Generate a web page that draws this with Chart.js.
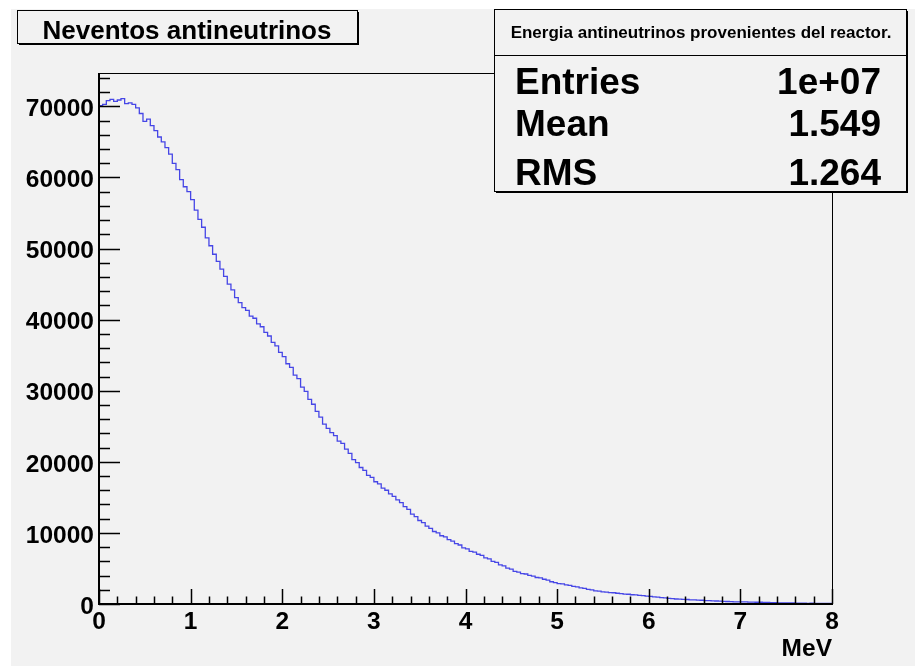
<!DOCTYPE html>
<html>
<head>
<meta charset="utf-8">
<title>Neventos antineutrinos</title>
<script src="https://cdn.jsdelivr.net/npm/chart.js@4.4.0/dist/chart.umd.min.js"></script>
<style>
  html, body { margin: 0; padding: 0; background: #ffffff; }
  #histo { position: absolute; left: 0; top: 0; }
</style>
</head>
<body>
<canvas id="histo" width="915" height="666"></canvas>
<script>
// Histograma: 200 bins de 0.04 MeV entre 0 y 8 MeV
const xMin = 0;
const xMax = 8;
const anchoBin = 0.04;

// Cuentas por bin
const cuentas = [
    69400, 70100, 70300, 70800, 71000, 70700, 70900, 71100, 70400, 70500,
    70300, 69800, 69000, 67900, 68200, 67300, 66600, 65700, 65000, 64200,
    63300, 62000, 61100, 59700, 58700,
    58000, 56900, 55400, 54100, 53000, 51500, 50400, 49200, 48200, 47100,
    46100, 45000, 44200, 43100, 42400, 41700, 41300, 40500, 40200, 39400,
    39000, 38200, 37700, 36800, 36300,
    35400, 34800, 33800, 33300, 32200, 31700, 30500, 29900, 28800, 28100,
    27100, 26300, 25300, 24700, 24100, 23700, 22900, 22600, 21800, 21200,
    20300, 19900, 19200, 18800, 18100,
    17800, 17200, 16900, 16300, 16000, 15500, 15150, 14650, 14250, 13700,
    13300, 12650, 12300, 11750, 11450, 10950, 10650, 10200, 10000, 9600,
    9450, 9050, 8850, 8500, 8300,
    7900, 7750, 7400, 7300, 7000, 6850, 6500, 6350, 6000, 5850,
    5500, 5350, 5050, 4900, 4600, 4480, 4280, 4220, 4030, 3920,
    3730, 3670, 3480, 3370, 3130,
    3020, 2880, 2820, 2680, 2620, 2480, 2420, 2280, 2200, 2050,
    1980, 1840, 1800, 1710, 1680, 1610, 1580, 1510, 1470, 1400,
    1370, 1300, 1280, 1210, 1170,
    1100, 1070, 1000, 970, 900, 870, 790, 760, 700, 690,
    640, 630, 580, 570, 540, 525, 485, 475, 440, 425,
    395, 380, 350, 340, 305,
    305, 285, 285, 265, 265, 245, 245, 220, 220, 195,
    190, 170, 170, 150, 150, 140, 130, 120, 120, 100,
    105, 90, 95, 80, 85
];

// Marcas de los ejes
const xTicks = [0, 1, 2, 3, 4, 5, 6, 7, 8];
const yTicks = [0, 10000, 20000, 30000, 40000, 50000, 60000, 70000];
const yMax = 74700;
const xMenor = 0.2;
const yMenor = 2000;

// Textos
const tituloHisto = 'Neventos antineutrinos';
const tituloStats = 'Energia antineutrinos provenientes del reactor.';
const statsNombres = ['Entries', 'Mean', 'RMS'];
const statsValores = ['1e+07', '1.549', '1.264'];
const tituloEjeX = 'MeV';

const fuente = '"Liberation Sans", Arial, Helvetica, sans-serif';
const gris = '#f2f2f2';

// Puntos del contorno: borde inferior de cada bin + cierre en xMax
const puntos = cuentas.map((v, i) => ({ x: xMin + i * anchoBin, y: v }));
puntos.push({ x: xMax, y: cuentas[cuentas.length - 1] });

// Fondo gris del canvas de ROOT
const fondoPlugin = {
    id: 'fondo',
    beforeDraw(chart) {
        const c = chart.ctx;
        c.save();
        c.fillStyle = '#ffffff';
        c.fillRect(0, 0, chart.width, chart.height);
        c.fillStyle = gris;
        c.fillRect(11, 9, chart.width - 11, chart.height - 9);
        c.restore();
    }
};

// Caja con sombra al estilo ROOT
function caja(c, x, y, w, h) {
    c.fillStyle = '#000000';
    c.fillRect(x + 2, y + 2, w, h);
    c.fillStyle = gris;
    c.fillRect(x, y, w, h);
    c.strokeStyle = '#000000';
    c.lineWidth = 1;
    c.strokeRect(x + 0.5, y + 0.5, w, h);
    c.fillStyle = '#000000';
}

// Marco, marcas hacia dentro y cajas de título y estadística
const marcoPlugin = {
    id: 'marco',
    afterDraw(chart) {
        const c = chart.ctx;
        const a = chart.chartArea;
        const sx = chart.scales.x;
        const sy = chart.scales.y;
        c.save();

        // marco
        c.strokeStyle = '#000000';
        c.lineWidth = 1;
        c.strokeRect(a.left + 0.5, a.top + 0.5, a.right - a.left, a.bottom - a.top);
        c.lineWidth = 2;
        c.beginPath();
        c.moveTo(a.left, a.top);
        c.lineTo(a.left, a.bottom);
        c.lineTo(a.right, a.bottom);
        c.stroke();

        // marcas eje X (mayores y menores)
        c.lineWidth = 1.5;
        c.beginPath();
        for (let v = xMin; v <= xMax + 1e-9; v += xMenor) {
            const px = Math.round(sx.getPixelForValue(v)) + 0.5;
            const mayor = Math.abs(v - Math.round(v)) < 1e-6;
            c.moveTo(px, a.bottom);
            c.lineTo(px, a.bottom - (mayor ? 15 : 7.5));
        }
        // marcas eje Y
        for (let v = 0; v <= yMax; v += yMenor) {
            const py = Math.round(sy.getPixelForValue(v)) + 0.5;
            const mayor = v % 10000 === 0;
            c.moveTo(a.left, py);
            c.lineTo(a.left + (mayor ? 21 : 11), py);
        }
        c.stroke();

        // caja del título
        caja(c, 17, 10, 340, 33);
        c.font = 'bold 26px ' + fuente;
        c.textAlign = 'center';
        c.textBaseline = 'alphabetic';
        c.fillText(tituloHisto, 187, 39);

        // caja de estadística
        caja(c, 494, 9, 412, 182);
        c.beginPath();
        c.lineWidth = 1;
        c.moveTo(494, 55.5);
        c.lineTo(906, 55.5);
        c.stroke();
        c.font = 'bold 17px ' + fuente;
        c.textAlign = 'center';
        c.fillText(tituloStats, 701, 38);
        const bases = [94, 136, 185];
        c.font = 'bold 37px ' + fuente;
        statsNombres.forEach((n, i) => {
            c.textAlign = 'left';
            c.fillText(n, 515, bases[i]);
            c.textAlign = 'right';
            c.fillText(statsValores[i], 881, bases[i]);
        });
        c.restore();
    }
};

const fuenteEje = { family: fuente, size: 24.5, weight: 'bold' };

new Chart(document.getElementById('histo'), {
    type: 'line',
    data: {
        datasets: [{
            label: tituloStats,
            data: puntos,
            stepped: 'after',
            borderColor: '#4646e6',
            borderWidth: 1.3,
            pointRadius: 0,
            fill: false,
            tension: 0
        }]
    },
    options: {
        responsive: false,
        animation: false,
        layout: { padding: { left: 0, top: 73, right: 83, bottom: 0 } },
        scales: {
            x: {
                type: 'linear',
                min: xMin,
                max: xMax,
                grid: { display: false, drawTicks: false },
                border: { display: false },
                afterBuildTicks(s) { s.ticks = xTicks.map(v => ({ value: v })); },
                afterFit(s) { s.height = 62; },
                ticks: {
                    font: fuenteEje,
                    color: '#000000',
                    padding: 4,
                    maxRotation: 0,
                    autoSkip: false,
                    callback: v => String(v)
                },
                title: {
                    display: true,
                    text: tituloEjeX,
                    align: 'end',
                    color: '#000000',
                    font: fuenteEje,
                    padding: { top: 0, bottom: 2 }
                }
            },
            y: {
                type: 'linear',
                min: 0,
                max: yMax,
                grid: { display: false, drawTicks: false },
                border: { display: false },
                afterBuildTicks(s) { s.ticks = yTicks.map(v => ({ value: v })); },
                afterFit(s) { s.width = 99; },
                ticks: {
                    font: fuenteEje,
                    color: '#000000',
                    padding: 5,
                    labelOffset: 3,
                    autoSkip: false,
                    callback: v => String(v)
                }
            }
        },
        plugins: {
            legend: { display: false },
            tooltip: { enabled: false },
            title: { display: false }
        }
    },
    plugins: [fondoPlugin, marcoPlugin]
});
</script>
</body>
</html>
